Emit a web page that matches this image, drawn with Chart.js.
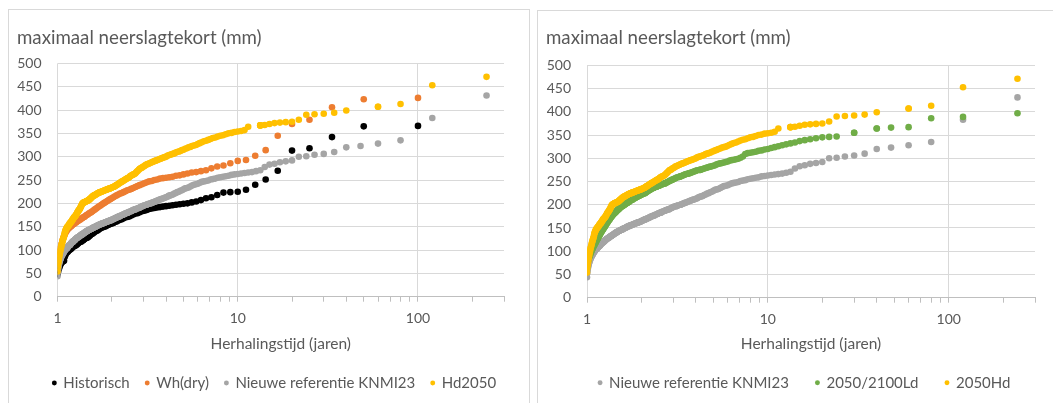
<!DOCTYPE html>
<html lang="nl">
<head>
<meta charset="utf-8">
<title>Maximaal neerslagtekort</title>
<script src="https://cdn.jsdelivr.net/npm/chart.js@4.4.1/dist/chart.umd.min.js"></script>
<style>
  html, body { margin: 0; padding: 0; background: #fff; }
  body { width: 1053px; height: 403px; position: relative; overflow: hidden; }
  .frame { position: absolute; border: 1px solid #d9d9d9; box-sizing: border-box; }
  #frameLeft { left: 8px; top: 9px; width: 522px; height: 420px; }
  #frameRight { left: 537px; top: 10px; width: 530px; height: 420px; }
  canvas { position: absolute; }
  #chartLeft { left: 8px; top: 9px; }
  #chartRight { left: 537px; top: 10px; }
</style>
</head>
<body>
<div class="frame" id="frameLeft"></div>
<div class="frame" id="frameRight"></div>
<canvas id="chartLeft" width="523" height="394"></canvas>
<canvas id="chartRight" width="516" height="393"></canvas>
<script>
// Record lengths (years) used for the return periods
const histYears = 100;
const simYears = 240;

// Yearly maximum precipitation deficit (mm), sorted from largest to smallest
const historisch = [
  366, 365, 342, 318, 313, 270, 251, 240, 229, 225,
  224, 223, 218, 213, 211, 207, 204, 202, 200, 199,
  198, 197, 196, 195, 194, 193, 192, 191, 190, 189,
  188, 186, 184, 183, 181, 179, 178, 176, 174, 172,
  171, 170, 168, 166, 165, 163, 161, 160, 158, 157,
  156, 154, 153, 151, 150, 149, 148, 146, 144, 142,
  141, 139, 137, 135, 134, 131, 129, 127, 126, 125,
  123, 121, 120, 118, 117, 116, 114, 112, 110, 109,
  108, 107, 105, 103, 101, 100, 98, 96, 94, 91,
  86, 77, 76, 75, 73, 70, 66, 61, 55, 48
];

const whDry = [
  426, 423, 406, 379, 370, 345, 314, 302, 293, 291,
  286, 281, 279, 275, 271, 269, 267, 266, 264, 262,
  260, 259, 257, 256, 255, 254, 253, 251, 250, 248,
  247, 245, 243, 241, 239, 237, 235, 233, 231, 229,
  228, 226, 224, 222, 221, 219, 217, 215, 213, 211,
  209, 207, 205, 203, 201, 199, 197, 195, 193, 191,
  189, 187, 185, 183, 181, 180, 178, 176, 175, 173,
  171, 170, 168, 167, 165, 164, 162, 161, 159, 158,
  156, 155, 153, 151, 150, 148, 146, 144, 141, 138,
  134, 130, 125, 120, 113, 106, 98, 88, 77, 62
];

const referentie = [
  431, 383, 335, 328, 323, 320, 310, 306, 304, 301,
  300, 292, 290, 288, 285, 283, 278, 271, 269, 267,
  266, 265, 264, 263, 262, 261, 259, 258, 257, 256,
  255, 253, 252, 251, 249, 248, 247, 246, 244, 242,
  241, 240, 238, 236, 234, 233, 232, 230, 228, 227,
  225, 224, 222, 221, 219, 218, 217, 216, 214, 213,
  212, 211, 210, 209, 208, 207, 206, 205, 204, 203,
  202, 201, 200, 200, 199, 198, 197, 197, 196, 195,
  194, 193, 192, 191, 190, 190, 189, 188, 187, 187,
  186, 185, 184, 183, 183, 182, 181, 180, 180, 179,
  178, 177, 177, 176, 175, 175, 174, 173, 172, 172,
  171, 170, 170, 169, 168, 168, 167, 166, 166, 165,
  164, 164, 163, 163, 162, 162, 161, 161, 160, 160,
  159, 159, 158, 158, 157, 157, 156, 156, 155, 155,
  154, 154, 153, 153, 152, 151, 151, 150, 150, 149,
  149, 148, 147, 147, 146, 146, 145, 145, 144, 144,
  143, 143, 142, 141, 141, 140, 139, 139, 138, 137,
  137, 136, 135, 135, 134, 133, 133, 132, 131, 131,
  130, 129, 129, 128, 128, 127, 126, 125, 125, 124,
  123, 122, 121, 121, 120, 119, 118, 118, 117, 116,
  115, 114, 113, 112, 111, 111, 110, 109, 108, 107,
  106, 105, 104, 104, 103, 102, 101, 100, 99, 98,
  96, 95, 94, 92, 91, 90, 88, 87, 85, 83,
  81, 79, 77, 74, 71, 68, 64, 59, 53, 44
];

const hd2050 = [
  471, 453, 413, 407, 407, 399, 394, 392, 391, 390,
  379, 375, 374, 373, 372, 370, 368, 367, 367, 367,
  364, 357, 355, 354, 353, 351, 350, 348, 346, 345,
  343, 341, 340, 338, 336, 334, 333, 331, 329, 327,
  325, 324, 323, 321, 320, 318, 317, 315, 314, 312,
  311, 310, 309, 307, 306, 305, 304, 303, 302, 300,
  299, 298, 297, 296, 295, 294, 293, 292, 291, 290,
  289, 288, 287, 286, 285, 284, 283, 282, 280, 279,
  278, 276, 275, 274, 272, 270, 268, 266, 264, 263,
  262, 261, 260, 259, 258, 256, 255, 254, 253, 252,
  251, 250, 249, 248, 247, 246, 245, 244, 243, 242,
  241, 240, 239, 238, 237, 236, 236, 235, 235, 234,
  233, 233, 232, 232, 231, 231, 230, 230, 229, 229,
  228, 228, 227, 227, 226, 226, 225, 225, 224, 224,
  223, 223, 222, 221, 221, 220, 219, 219, 218, 217,
  217, 216, 215, 214, 213, 212, 211, 210, 209, 208,
  207, 207, 206, 206, 205, 205, 204, 204, 203, 203,
  202, 202, 201, 200, 199, 197, 195, 193, 191, 189,
  188, 186, 185, 184, 182, 181, 179, 177, 176, 174,
  173, 172, 171, 170, 169, 168, 166, 165, 164, 162,
  161, 160, 159, 158, 157, 156, 154, 153, 152, 151,
  150, 149, 148, 146, 145, 143, 141, 139, 136, 132,
  129, 127, 124, 122, 119, 116, 113, 110, 107, 104,
  100, 97, 93, 89, 85, 80, 75, 70, 63, 54
];

const ld2100 = [
  397, 389, 386, 367, 366, 364, 364, 355, 355, 347,
  346, 345, 343, 341, 339, 337, 334, 332, 330, 328,
  326, 324, 322, 320, 319, 317, 316, 314, 313, 312,
  311, 309, 304, 301, 299, 298, 297, 296, 295, 293,
  292, 291, 290, 289, 288, 287, 285, 284, 283, 282,
  281, 280, 279, 278, 277, 276, 275, 275, 274, 273,
  272, 271, 270, 269, 268, 267, 267, 266, 265, 264,
  263, 262, 261, 260, 260, 259, 258, 257, 256, 255,
  254, 253, 252, 251, 250, 249, 248, 247, 246, 246,
  245, 244, 244, 243, 242, 241, 241, 240, 239, 239,
  238, 237, 236, 236, 235, 234, 233, 232, 231, 230,
  229, 228, 227, 226, 225, 225, 224, 223, 223, 222,
  221, 221, 220, 219, 219, 218, 217, 216, 216, 215,
  214, 214, 213, 212, 211, 211, 210, 209, 208, 207,
  206, 206, 205, 204, 203, 203, 202, 201, 200, 200,
  199, 198, 197, 197, 196, 195, 194, 193, 192, 191,
  190, 189, 188, 187, 186, 185, 184, 183, 182, 181,
  180, 179, 178, 177, 175, 174, 173, 172, 170, 169,
  168, 166, 165, 164, 162, 161, 160, 158, 157, 155,
  154, 152, 151, 150, 148, 147, 146, 144, 143, 142,
  140, 139, 137, 136, 134, 133, 131, 130, 128, 127,
  125, 124, 122, 121, 119, 118, 116, 115, 113, 112,
  110, 109, 107, 105, 104, 102, 100, 98, 96, 94,
  92, 90, 88, 86, 84, 81, 78, 75, 71, 64
];

// Axis ticks: marks at every step of the log axis, labels only per decade
const periodTicks = [1, 2, 3, 4, 5, 6, 7, 8, 9, 10, 20, 30, 40, 50, 60, 70, 80, 90, 100, 200, 300];
const periodLabels = [1, 10, 100];

const TEXT = '#595959';
const GRID = '#d9d9d9';

Chart.defaults.font.family = 'Lato, "Open Sans", sans-serif';
Chart.defaults.color = TEXT;

// Return period = record length / rank; equal values share the same rank
function toPoints(values, years) {
  return values.map(v => ({ x: years / (values.indexOf(v) + 1), y: v }));
}

// Moves the legend sideways after layout
const legendOffset = {
  id: 'legendOffset',
  afterLayout(chart, args, opts) {
    if (!chart.legend || !opts.x) return;
    chart.legend.left += opts.x;
    chart.legend.right += opts.x;
  }
};
Chart.register(legendOffset);

function buildChart(canvasId, series, box) {
  const datasets = series.map((s, i) => ({
    label: s.label,
    data: toPoints(s.values, s.years),
    backgroundColor: s.color,
    pointRadius: 3.3,
    pointHoverRadius: 3.3,
    pointBorderWidth: 0,
    // later series are drawn on top
    order: series.length - i
  }));

  return new Chart(document.getElementById(canvasId), {
    type: 'scatter',
    data: { datasets },
    options: {
      responsive: false,
      animation: false,
      events: [],
      layout: { padding: { left: 9, right: box.padRight, top: 0, bottom: box.padBottom } },
      scales: {
        x: {
          type: 'logarithmic',
          min: 1,
          max: 300,
          afterBuildTicks: scale => { scale.ticks = periodTicks.map(value => ({ value })); },
          afterFit: scale => { scale.height = box.xHeight; },
          grid: {
            color: ctx => (ctx.tick && periodLabels.includes(ctx.tick.value)) ? GRID : 'rgba(0,0,0,0)',
            tickColor: '#bfbfbf',
            tickLength: 5
          },
          border: { color: '#bfbfbf' },
          ticks: {
            autoSkip: false,
            maxRotation: 0,
            padding: 8,
            font: { size: 14 },
            callback: value => periodLabels.includes(value) ? String(value) : ''
          },
          title: {
            display: true,
            text: 'Herhalingstijd (jaren)',
            font: { size: 15.5 },
            padding: { top: 0, bottom: box.xTitlePad }
          }
        },
        y: {
          min: 0,
          max: 500,
          afterFit: scale => { scale.width = box.yWidth; },
          grid: { color: GRID, drawTicks: false },
          border: { display: false },
          ticks: { stepSize: 50, padding: 16, font: { size: 14 } }
        }
      },
      plugins: {
        title: {
          display: true,
          text: 'maximaal neerslagtekort (mm)',
          align: 'start',
          color: TEXT,
          font: { size: 18.7, weight: 'normal' },
          padding: { top: box.titleTop, bottom: box.titleBottom }
        },
        legend: {
          position: 'bottom',
          labels: {
            usePointStyle: true,
            boxWidth: 3,
            boxHeight: 3.5,
            padding: box.legendPad,
            color: TEXT,
            font: { size: 15 },
            sort: (a, b) => a.datasetIndex - b.datasetIndex
          }
        },
        legendOffset: { x: box.legendShift },
        tooltip: { enabled: false }
      }
    }
  });
}

buildChart('chartLeft', [
  { label: 'Historisch', values: historisch, years: histYears, color: '#000000' },
  { label: 'Wh(dry)', values: whDry, years: histYears, color: '#ED7D31' },
  { label: 'Nieuwe referentie KNMI23', values: referentie, years: simYears, color: '#A5A5A5' },
  { label: 'Hd2050', values: hd2050, years: simYears, color: '#FFC000' }
], {
  padRight: 27, padBottom: 2.5, yWidth: 40.5, xHeight: 62.8, xTitlePad: 6.2,
  titleTop: 17.3, titleBottom: 14.6, legendPad: 16, legendShift: 14
});

buildChart('chartRight', [
  { label: 'Nieuwe referentie KNMI23', values: referentie, years: simYears, color: '#A5A5A5' },
  { label: '2050/2100Ld', values: ld2100, years: simYears, color: '#70AD47' },
  { label: '2050Hd', values: hd2050, years: simYears, color: '#FFC000' }
], {
  padRight: 18, padBottom: 2.8, yWidth: 41, xHeight: 50.5, xTitlePad: -5.1,
  titleTop: 17.1, titleBottom: 15.8, legendPad: 27, legendShift: 14
});
</script>
</body>
</html>
